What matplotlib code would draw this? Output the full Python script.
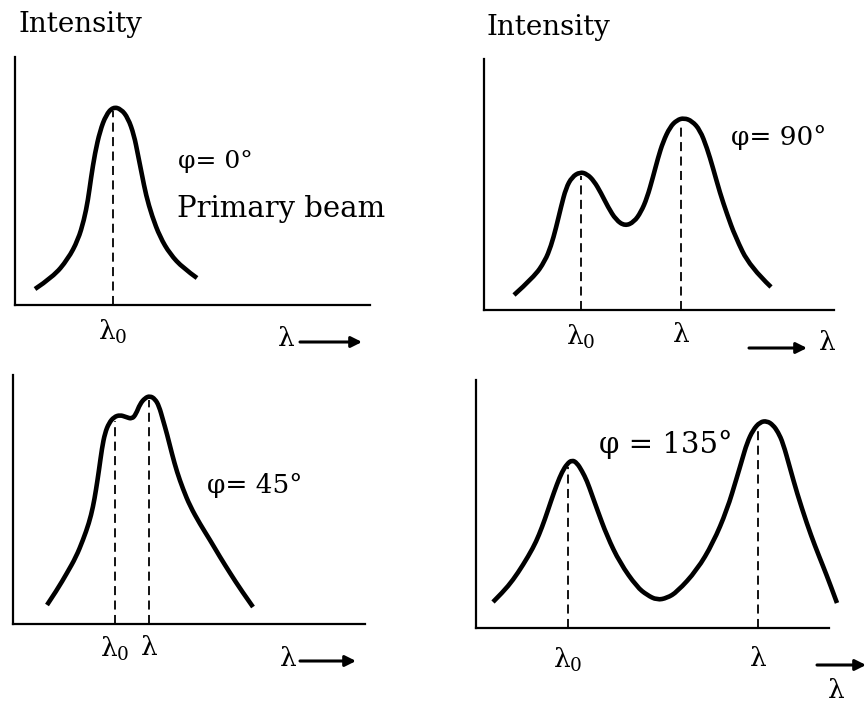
import numpy as np
import matplotlib.pyplot as plt
from matplotlib.path import Path
from matplotlib.patches import PathPatch

plt.rcParams['font.family'] = 'DejaVu Serif'
plt.rcParams['mathtext.fontset'] = 'dejavuserif'

W, H = 868, 706

# scattering angle 0 deg (primary beam)
lam_0 = [20, 38, 53, 63, 69, 73, 76, 80, 85, 91, 98, 106, 113, 119, 123, 127, 131, 137, 145, 155, 168, 182]
int_0 = [16, 28, 46, 65, 85, 105, 127, 152, 174, 190, 198, 196, 187, 170, 150, 130, 110, 89, 68, 51, 37, 27]
peaks_0 = [98]
labels_0 = [r'$\mathregular{λ_0}$']

# 90 deg
lam_90 = [30, 50, 61, 67, 72, 77, 82, 88, 96, 103, 110, 117, 124, 132, 141, 150, 157, 163, 169, 174, 179,
          186, 193, 200, 208, 216, 223, 229, 236, 243, 251, 266, 287]
int_90 = [15, 33, 49, 64, 82, 103, 122, 133, 138, 136, 129, 117, 103, 90, 84, 88, 98, 112, 133, 152, 168,
          183, 190, 192, 189, 180, 162, 142, 117, 96, 74, 43, 23]
peaks_90 = [97, 197]
labels_90 = [r'$\mathregular{λ_0}$', 'λ']

# 45 deg
lam_45 = [34, 44, 54, 63, 70, 76, 80, 83, 86, 89, 92, 96, 101, 107, 113, 119, 123, 127, 132, 137, 142,
          146, 150, 154, 159, 164, 170, 177, 187, 197, 207, 217, 228, 240]
int_45 = [19, 34, 51, 67, 84, 101, 117, 134, 154, 176, 191, 201, 207, 209, 207, 205, 210, 220, 226, 228, 225,
          218, 204, 190, 170, 152, 135, 118, 100, 84, 67, 51, 34, 17]
peaks_45 = [102, 136]
labels_45 = [r'$\mathregular{λ_0}$', 'λ']

# 135 deg
lam_135 = [17, 27, 37, 47, 57, 63, 69, 75, 81, 86, 91, 96, 101, 106, 111, 116, 121, 131, 144, 161, 171,
           181, 191, 201, 221, 237, 251, 261, 266, 271, 277, 284, 291, 297, 302, 307, 314, 321, 331, 339,
           347, 354, 361]
int_135 = [26, 36, 48, 63, 80, 93, 109, 127, 144, 156, 164, 168, 165, 157, 147, 133, 119, 92, 65, 41, 33,
           28, 30, 36, 58, 85, 118, 151, 168, 185, 198, 206, 207, 203, 196, 185, 160, 135, 104, 82,
           62, 44, 25]
peaks_135 = [92, 282]
labels_135 = [r'$\mathregular{λ_0}$', 'λ']


def smooth_path(xs, ys):
    # quadratic bezier through midpoints, read points act as control points
    pts = np.column_stack([xs, ys]).astype(float)
    verts = [pts[0]]
    codes = [Path.MOVETO]
    n = len(pts)
    for i in range(1, n - 1):
        end = pts[n - 1] if i == n - 2 else (pts[i] + pts[i + 1]) / 2
        verts += [pts[i], end]
        codes += [Path.CURVE3, Path.CURVE3]
    return Path(verts, codes)


def panel(fig, box, xs, ys, peaks, labels, pad):
    x0, y0, x1, ytop = box
    ax = fig.add_axes([x0 / W, 1 - y0 / H, (x1 - x0) / W, (y0 - ytop) / H])
    ax.patch.set_alpha(0)
    curve = PathPatch(smooth_path(xs, ys), fill=False, edgecolor='black', lw=3.3,
                      capstyle='butt', joinstyle='round', clip_on=False)
    ax.add_patch(curve)
    for p in peaks:
        top = np.interp(p, xs, ys)
        ax.plot([p, p], [0, top - 4], color='black', lw=1.3, ls=(0, (5, 3)))
    for s in ['top', 'right']:
        ax.spines[s].set_visible(False)
    for s in ['left', 'bottom']:
        ax.spines[s].set_linewidth(1.6)
    ax.set_xticks(peaks, labels)
    ax.set_yticks([])
    ax.tick_params(axis='x', length=0, pad=pad, labelsize=19)
    ax.set_xlim(0, x1 - x0)
    ax.set_ylim(0, y0 - ytop)
    return ax


fig = plt.figure(figsize=(W / 100, H / 100), dpi=100)

panel(fig, (15, 305, 370, 57), lam_0, int_0, peaks_0, labels_0, 9)
panel(fig, (484, 310, 834, 59), lam_90, int_90, peaks_90, labels_90, 9)
panel(fig, (13, 624, 365, 375), lam_45, int_45, peaks_45, labels_45, 8)
panel(fig, (476, 628, 829, 380), lam_135, int_135, peaks_135, labels_135, 13)

# overlay in pixel units for the free text and arrows
ov = fig.add_axes([0, 0, 1, 1])
ov.set_xlim(0, W)
ov.set_ylim(H, 0)
ov.axis('off')
ov.patch.set_alpha(0)

ov.text(18, 32, 'Intensity', fontsize=20, va='baseline')
ov.text(486, 35, 'Intensity', fontsize=20, va='baseline')
ov.text(178, 168, 'φ= 0°', fontsize=18, va='baseline')
ov.text(177, 217, 'Primary beam', fontsize=21, va='baseline')
ov.text(731, 145, 'φ= 90°', fontsize=19, va='baseline')
ov.text(207, 493, 'φ= 45°', fontsize=19, va='baseline')
ov.text(599, 453, 'φ = 135°', fontsize=21, va='baseline')


def arrow(x1, x2, y):
    ov.annotate('', xy=(x2, y), xytext=(x1, y),
                arrowprops=dict(arrowstyle='-|>', color='black', lw=2.2,
                                mutation_scale=16, shrinkA=0, shrinkB=0))


ov.text(286, 338, 'λ', fontsize=19, ha='center', va='center')
arrow(300, 362, 342)
ov.text(827, 342, 'λ', fontsize=19, ha='center', va='center')
arrow(749, 807, 348)
ov.text(288, 658, 'λ', fontsize=19, ha='center', va='center')
arrow(300, 356, 661)
arrow(817, 866, 665)
ov.text(836, 690, 'λ', fontsize=19, ha='center', va='center')

fig.savefig('out.png', dpi=100)
